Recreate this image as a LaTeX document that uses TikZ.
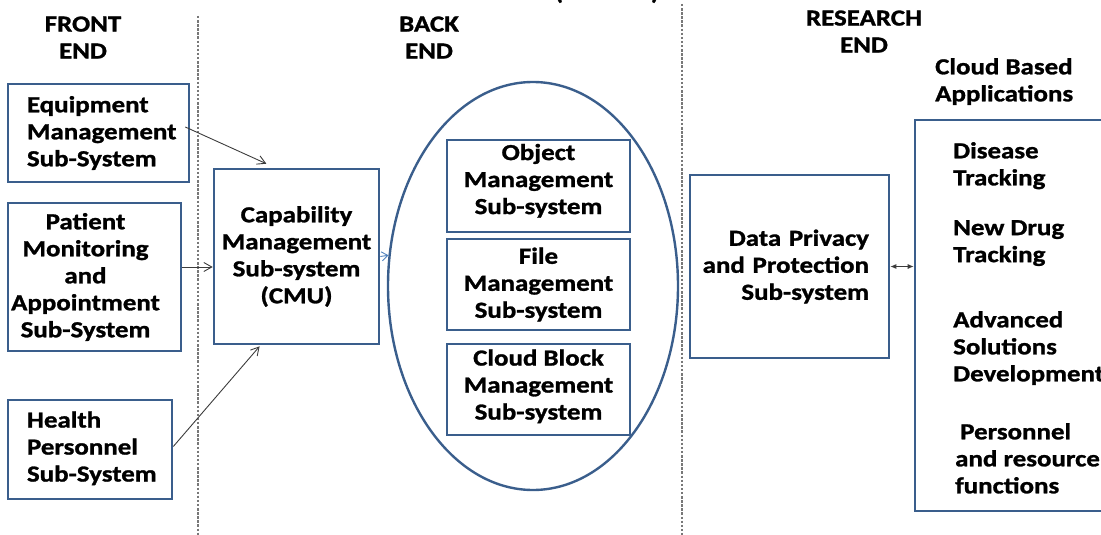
\documentclass[tikz,border=0pt]{standalone}
\usepackage{fontspec}
\setmainfont{Carlito}[FakeStretch=1.17, BoldFeatures={FakeBold=1.2}]
\usetikzlibrary{arrows.meta,shapes.geometric,calc}
\definecolor{boxblue}{RGB}{58,94,140}
\definecolor{divgray}{RGB}{120,120,120}
\definecolor{conngray}{RGB}{60,60,60}
\definecolor{tipblue}{RGB}{79,129,189}
\begin{document}
\begin{tikzpicture}[x=1pt,y=-1pt,
  lbl/.style={font=\bfseries\fontsize{23}{27}\selectfont, inner sep=0pt, text=black},
  box/.style={lbl, draw=boxblue, line width=2.6pt, fill=white},
  divider/.style={draw=divgray, line width=1.3pt, dash pattern=on 2.5pt off 1.6pt},
  conn/.style={draw=conngray, line width=0.9pt, -{Straight Barb[length=8pt,width=9pt]}},
  blueconn/.style={draw=tipblue, line width=0.9pt, -{Straight Barb[length=6pt,width=9pt]}},
  dbl/.style={draw=conngray, line width=0.9pt, {Latex[length=6pt,width=5pt]}-{Latex[length=6pt,width=5pt]}}
]
\useasboundingbox (0,0) rectangle (1101,535);
\clip (0,0) rectangle (1101,535);

% heading fragment running off the top edge
\node[lbl, anchor=base] (ttl) at (607,-0.5) {(\hspace{88pt})};

% column dividers
\coordinate (d1t) at (198,16);
\coordinate (d1b) at (198,535);
\coordinate (d2t) at (682,4);
\coordinate (d2b) at (682,535);
\draw[divider] (d1t) -- (d1b);
\draw[divider] (d2t) -- (d2b);

% column headings
\node[lbl, align=center] (fe) at (83,37.5) {FRONT\\END};
\node[lbl, align=center] (be) at (429,37.5) {BACK\\END};
\node[lbl, align=center] (re) at (864,31.5) {RESEARCH\\END};
\node[lbl, align=left, anchor=north west] (cba) at (935,58) {Cloud Based\\Applications};

% front end
\node[box, align=left, text width=143pt, inner xsep=19pt, minimum height=98pt]
  (eq) at (98.5,133) {\mbox{Equipment}\\\mbox{Management}\\\mbox{Sub-System}};
\node[box, align=center, minimum width=173pt, minimum height=148pt]
  (pat) at (94.5,277) {Patient\kern18pt\\Monitoring\kern18pt\\and\kern18pt\\Appointment\kern18pt\\Sub-System\kern18pt};
\node[box, align=left, text width=126pt, inner xsep=19pt, minimum height=99pt]
  (hp) at (90,449.5) {\mbox{Health}\\\mbox{Personnel}\\\mbox{Sub-System}\rule[-6pt]{0pt}{6pt}};
\node[box, align=center, minimum width=165pt, minimum height=175pt]
  (cmu) at (296.5,256.5) {Capability\\Management\\Sub-system\\(CMU)};

% back end
\node[draw=boxblue, line width=2.4pt, ellipse, minimum width=290pt, minimum height=408pt, inner sep=0pt]
  (ell) at (533,286) {};
\node[box, align=center, minimum width=183pt, minimum height=92pt]
  (obj) at (538.5,186) {Object\\Management\\Sub-system\rule[-14pt]{0pt}{14pt}};
\node[box, align=center, minimum width=183pt, minimum height=91pt]
  (fm) at (538.5,284.5) {File\\Management\\Sub-system};
\node[box, align=center, minimum width=183pt, minimum height=91pt]
  (cb) at (538.5,389.5) {Cloud Block\\Management\\Sub-system\rule[-10pt]{0pt}{10pt}};

% research end
\node[box, align=right, text width=185pt, inner xsep=7pt, minimum height=183pt]
  (dp) at (789.5,266.5) {\mbox{Data Privacy}\kern13pt\\\mbox{and Protection}\kern13pt\\\mbox{Sub-system}\kern13pt};
\node[box, minimum width=195pt, minimum height=391pt] (apps) at (1012.5,315.5) {};
\node[lbl, align=left, anchor=north west] (a1) at (953,142) {Disease\\Tracking};
\node[lbl, align=left, anchor=north west] (a2) at (953,220) {New Drug\\Tracking};
\node[lbl, align=left, anchor=north west] (a3) at (953,311) {Advanced\\Solutions\\Development};
\node[lbl, align=left, anchor=north west] (a4) at (955,423) {\hspace*{5pt}Personnel\\and resource\\functions};

% connectors
\draw[conn] ($(eq.east)+(-5,-6)$) -- ($(cmu.north west)!0.32!(cmu.north east)+(0,-4)$);
\draw[conn] ($(pat.east)+(0,-10)$) coordinate (p1) -- (cmu.west |- p1);
\draw[conn] ($(hp.east)+(0,-3)$) -- ($(cmu.south west)!0.28!(cmu.south east)+(0,1)$);
\draw[blueconn] (cmu.east) -- (ell.168);
\draw[dbl] (dp.east) -- (apps.west |- dp.east);
\end{tikzpicture}
\end{document}
